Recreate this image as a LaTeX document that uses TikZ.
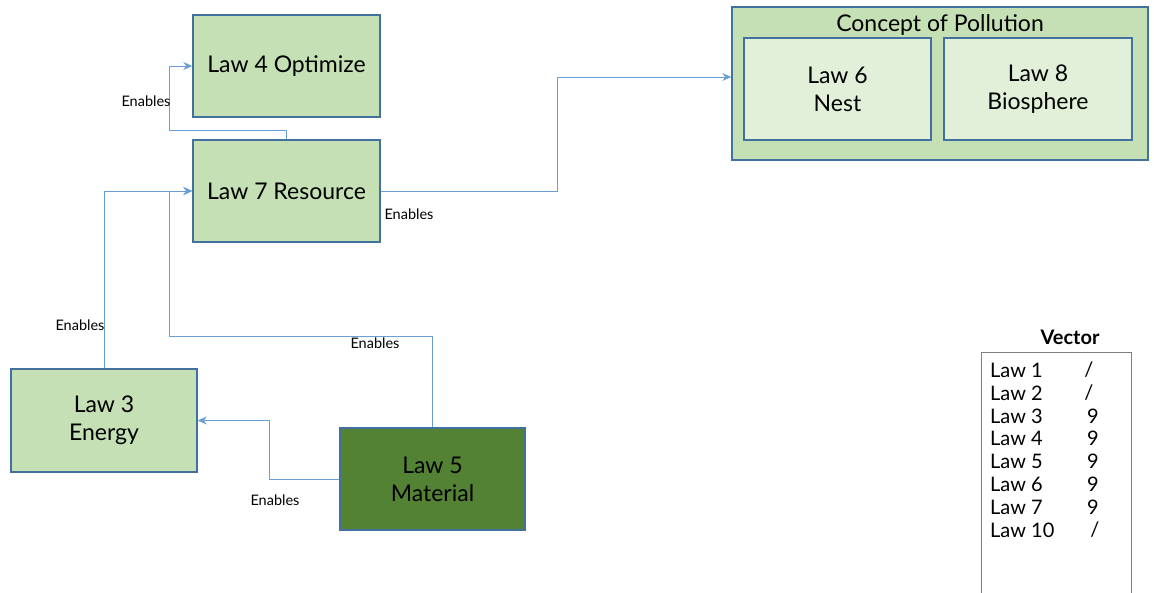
\documentclass[tikz,border=0pt]{standalone}
\usepackage{fontspec}
\setmainfont{Lato}
\usetikzlibrary{arrows.meta}
\definecolor{boxfill}{HTML}{C5E0B4}
\definecolor{innerfill}{HTML}{E2F0D9}
\definecolor{darkfill}{HTML}{548235}
\definecolor{boxedge}{HTML}{41719C}
\definecolor{linkblue}{HTML}{6A9FD6}
\definecolor{tableedge}{HTML}{7F7F7F}
\tikzset{
  lawbox/.style={draw=boxedge, line width=1.4pt, fill=boxfill, rectangle,
    align=center, font=\fontsize{23}{28}\selectfont, text=black},
  innerbox/.style={lawbox, fill=innerfill, line width=1.2pt},
  conn/.style={draw=linkblue, line width=0.9pt, -{Stealth[length=9pt,width=8pt]}},
  tag/.style={font=\fontsize{14.5}{16}\selectfont, text=black},
  rowtxt/.style={font=\fontsize{20}{22}\selectfont, anchor=west, inner sep=0pt},
  valtxt/.style={font=\fontsize{20}{22}\selectfont, inner sep=0pt}
}
\begin{document}
\begin{tikzpicture}[x=1pt,y=-1pt]
\useasboundingbox (0,0) rectangle (1154,592);

% law boxes
\node[lawbox, minimum width=187pt, minimum height=102pt] (law4) at (286.5,66) {Law 4 Optimize};
\node[lawbox, minimum width=187pt, minimum height=102pt] (law7) at (286.5,191) {Law 7 Resource};
\node[lawbox, minimum width=186pt, minimum height=103pt] (law3) at (104,420.5) {Law 3\\Energy};
\node[lawbox, fill=darkfill, minimum width=185pt, minimum height=102pt] (law5) at (432.5,479) {Law 5\\Material};

% concept of pollution group
\node[lawbox, minimum width=416pt, minimum height=153pt] (concept) at (940,83.5) {};
\node[font=\fontsize{23}{26}\selectfont] (concepttitle) at (940,25) {Concept of Pollution};
\node[innerbox, minimum width=187pt, minimum height=102pt] (law6) at (837.5,89) {Law 6\\Nest};
\node[innerbox, minimum width=188pt, minimum height=102pt] (law8) at (1038,89) {Law 8\\Biosphere};

% connectors
\draw[conn] (law7.north) |- (169,130) |- (law4.west);
\draw[conn] (law3.north) |- (law7.west);
\draw[conn] (law5.north) |- (169,336) |- (law7.west);
\draw[conn] (law5.west) -| (269,420.5) -- (law3.east);
\draw[conn] (law7.east) -| (557,77) -- (concept.west |- 557,77);

% connector labels
\node[tag] (e1) at (146,101) {Enables};
\node[tag] (e2) at (409,214) {Enables};
\node[tag] (e3) at (80,325) {Enables};
\node[tag] (e4) at (375,343) {Enables};
\node[tag] (e5) at (275,500) {Enables};

% vector table
\node[font=\bfseries\fontsize{20}{22}\selectfont] (vectitle) at (1070,337) {Vector};
\draw[tableedge, line width=0.8pt] (981,600) -- (981,352) -- (1131,352) -- (1131,600);
\node[rowtxt] (r1) at (990,370) {Law 1};   \node[valtxt] (v1) at (1089,370) {/};
\node[rowtxt] (r2) at (990,393) {Law 2};   \node[valtxt] (v2) at (1089,393) {/};
\node[rowtxt] (r3) at (990,416) {Law 3};   \node[valtxt] (v3) at (1093,416) {9};
\node[rowtxt] (r4) at (990,438.5) {Law 4}; \node[valtxt] (v4) at (1093,438.5) {9};
\node[rowtxt] (r5) at (990,461.5) {Law 5}; \node[valtxt] (v5) at (1093,461.5) {9};
\node[rowtxt] (r6) at (990,484) {Law 6};   \node[valtxt] (v6) at (1093,484) {9};
\node[rowtxt] (r7) at (990,507) {Law 7};   \node[valtxt] (v7) at (1093,507) {9};
\node[rowtxt] (r8) at (990,530) {Law 10};  \node[valtxt] (v8) at (1095,530) {/};
\end{tikzpicture}
\end{document}
